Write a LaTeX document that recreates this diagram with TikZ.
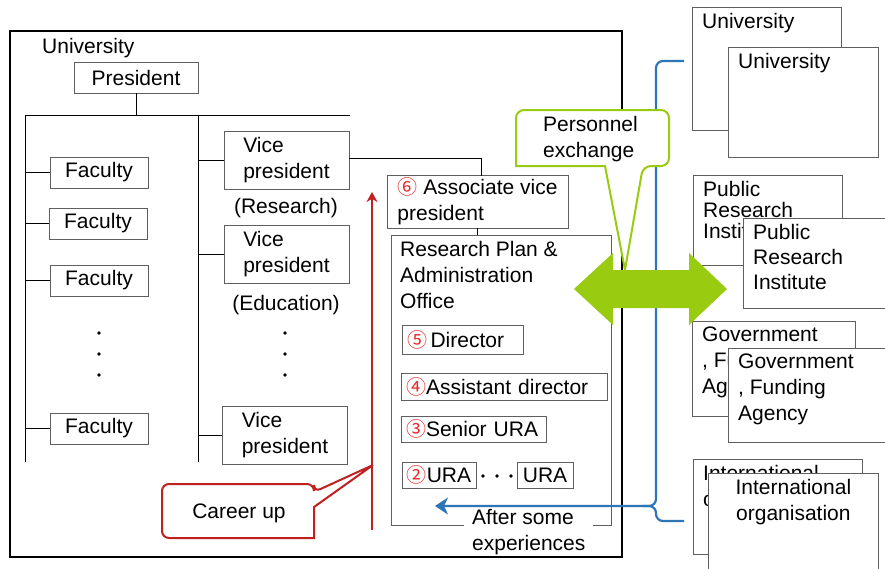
\documentclass[tikz,border=0pt]{standalone}
\usepackage{fontspec}
\setmainfont{Liberation Sans}
\newfontfamily\circfont{Noto Sans CJK JP}
\usetikzlibrary{arrows.meta}
\usetikzlibrary{positioning}

\definecolor{boxgray}{RGB}{95,95,95}
\definecolor{ucgreen}{RGB}{153,204,17}
\definecolor{ucblue}{RGB}{46,117,182}
\definecolor{ucred}{RGB}{192,32,32}
\definecolor{numred}{RGB}{230,40,40}

\newcommand{\circnum}[1]{{\circfont\fontsize{20}{20}\selectfont\color{numred}#1}}

\begin{document}
\begin{tikzpicture}[x=1pt,y=-1pt,
  every node/.style={font=\fontsize{21}{26}\selectfont},
  box/.style={draw=boxgray,fill=white,line width=0.8pt,inner sep=0pt},
  lbox/.style={box,align=left,inner xsep=5pt},
  orgbox/.style={draw=boxgray,fill=white,line width=0.8pt,inner sep=0pt,anchor=north west},
  orgtext/.style={anchor=north west,align=left,inner xsep=10pt,inner ysep=6pt},
  tree/.style={line width=0.8pt}]
  \useasboundingbox (0,0) rectangle (885,568);

  % the university
  \node[anchor=base west,inner sep=0pt] (unilbl) at (42,53) {University};
  \node[box,minimum width=124pt,minimum height=31pt] (pres) at (136,77.5) {President};
  \coordinate (busL) at (25,115);
  \coordinate (busM) at (198,115);
  \coordinate (busR) at (350,115);
  \draw[tree] (pres) -- (pres |- busL);
  \draw[tree] (busL) -- (busR);
  \draw[tree] (busL) -- ++(0,347);
  \draw[tree] (busM) -- ++(0,347);

  % faculties
  \node[box,minimum width=98pt,minimum height=31pt] (fac1) at (99,172.5) {Faculty};
  \node[box,minimum width=98pt,minimum height=31pt] (fac2) at (98,223.5) {Faculty};
  \node[box,minimum width=98pt,minimum height=31pt] (fac3) at (99,280.5) {Faculty};
  \node[box,minimum width=98pt,minimum height=31pt] (fac4) at (99,428.5) {Faculty};
  \foreach \f in {fac1,fac2,fac3,fac4} \draw[tree] (\f) -- (\f -| busL);
  \foreach \y in {333,354,375} {\fill (99,\y) circle (1.8); \fill (285,\y) circle (1.8);}

  % vice presidents
  \node[box,align=left,minimum width=125pt,minimum height=58pt] (vp1) at (286.5,160) {Vice\\president};
  \node[anchor=base] (vpres) at (286,213) {(Research)};
  \node[box,align=left,minimum width=125pt,minimum height=58pt] (vp2) at (286.5,254) {Vice\\president};
  \node[anchor=base] (vpedu) at (286,310) {(Education)};
  \node[box,align=left,minimum width=125pt,minimum height=58pt] (vp3) at (285,435) {Vice\\president};
  \foreach \v in {vp1,vp2,vp3} \draw[tree] (\v) -- (\v -| busM);

  % research plan & administration office
  \node[box,align=left,minimum width=181pt,minimum height=53pt] (avp) at (477.5,201.5) {\circnum{⑥} Associate vice\\president};
  \draw[tree] (vp1.east) ++(0,-2) -- ++(132,0) -- ++(0,18);
  \node[box,minimum width=220pt,minimum height=290pt] (rpao) at (501,380) {};
  \node[anchor=north west,align=left,inner sep=0pt] (rpaolbl) at (400,241.5) {Research Plan \&\\Administration\\Office};
  \draw[tree] (avp) -- (avp |- rpao.north);
  \node[lbox,text width=111pt,minimum height=29pt] (dir) at (462.5,339.5) {\mbox{\circnum{⑤}\,Director}};
  \node[lbox,text width=196pt,minimum height=27pt] (adir) at (504,386.5) {\mbox{\circnum{④}Assistant director}};
  \node[lbox,text width=135pt,minimum height=26pt] (sura) at (473.5,429) {\mbox{\circnum{③}Senior URA}};
  \node[box,minimum width=74pt,minimum height=26pt] (ura1) at (439,475) {\circnum{②}URA};
  \node[box,minimum width=56pt,minimum height=26pt] (ura2) at (545,475) {URA};
  \foreach \x in {483,497,511} \fill (\x,476) circle (1.8);
  \node[fill=white,align=left,anchor=north west,inner xsep=8pt,inner ysep=1pt] (after) at (464,508.5) {After some\\experiences};
  \node[draw,line width=2pt,minimum width=612pt,minimum height=526pt,anchor=north west,inner sep=0pt] (uni) at (9,30) {};

  % career up
  \coordinate (cubot) at (372,530);
  \coordinate (cutop) at (372,192);
  \draw[ucred,line width=2pt,-{Stealth[length=10pt,width=11pt]}] (cubot) -- (cutop);
  \coordinate (cunw) at (162,484);
  \coordinate (cuse) at (314,538);
  \coordinate (cutip) at (373,465);
  \draw[ucred,line width=2pt,fill=white,rounded corners=7pt] (238,484) -- (cuse |- cunw) -- ++(0,8) [sharp corners] -- (cutip) -- (314,507) -- (cuse) [rounded corners=7pt] -- (cunw |- cuse) -- (cunw) -- cycle;
  \node (cu) at (239,513) {Career up};

  % other organisations
  \node[orgbox,minimum width=149pt,minimum height=123pt] (uniA) at (692,7) {};
  \node[orgtext] (uniAt) at (uniA.north west) {University};
  \node[orgbox,minimum width=150pt,minimum height=110pt] (uniB) at (728,47) {};
  \node[orgtext] (uniBt) at (uniB.north west) {University};
  \node[orgbox,minimum width=149pt,minimum height=90pt] (priA) at (693,175) {};
  \node[orgtext,font=\fontsize{21}{21}\selectfont] (priAt) at (priA.north west) {Public\\Research\\Institute};
  \node[orgbox,minimum width=160pt,minimum height=90pt] (priB) at (743,218) {};
  \node[orgtext,font=\fontsize{21}{25}\selectfont] (priBt) at (priB.north west) {Public\\Research\\Institute};
  \node[orgbox,minimum width=163pt,minimum height=95pt] (govA) at (692,321) {};
  \node[orgtext] (govAt) at (govA.north west) {Government\\, Funding\\Agency};
  \node[orgbox,minimum width=170pt,minimum height=94pt] (govB) at (728,348) {};
  \node[orgtext] (govBt) at (govB.north west) {Government\\, Funding\\Agency};
  \node[orgbox,minimum width=169pt,minimum height=95pt] (intA) at (693,459) {};
  \node[orgtext] (intAt) at (intA.north west) {International\\organisation};
  \node[orgbox,minimum width=170pt,minimum height=110pt] (intB) at (708,473) {};
  \node[orgtext,anchor=north,align=center] (intBt) at (intB.north) {International\\organisation};

  % after some experiences
  \coordinate (armtop) at (684,61);
  \coordinate (armbot) at (684,521);
  \coordinate (brace) at (656,506);
  \coordinate (exptip) at (435,506);
  \draw[ucblue,line width=2.2pt,rounded corners=7pt,-{Stealth[length=13pt,width=17pt,inset=4pt]}] (armtop) -- (armtop -| brace) -- (brace) -- (exptip);
  \draw[ucblue,line width=2.2pt,rounded corners=7pt] (brace) ++(-14,0) -- (brace) -- (brace |- armbot) -- (armbot);

  % personnel exchange
  \coordinate (penw) at (516,110);
  \coordinate (pese) at (669,166);
  \coordinate (petip) at (625,270);
  \draw[ucgreen,line width=2pt,fill=white,rounded corners=8pt] (592,110) -- (pese |- penw) -- (pese) -- ++(-26,0) [sharp corners] -- (petip) -- (605,166) -- (penw |- pese) [rounded corners=8pt] -- (penw) -- cycle;
  \node[align=left] (pe) at (590.5,139) {Personnel\\exchange};
  \fill[ucgreen] (574,289) -- (613,253) -- (613,270) -- (689,270) -- (689,253) -- (727,289) -- (689,325) -- (689,308) -- (613,308) -- (613,325) -- cycle;
\end{tikzpicture}
\end{document}
